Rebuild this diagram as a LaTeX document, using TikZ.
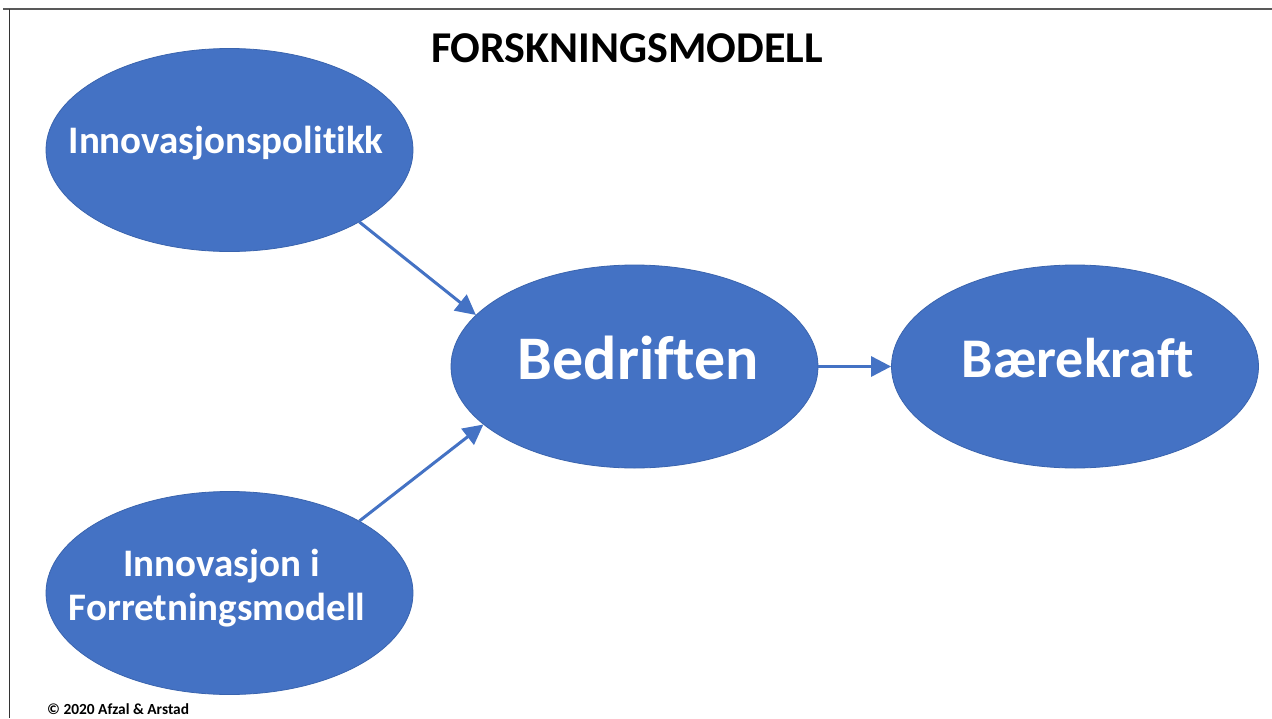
\documentclass[tikz,border=0pt]{standalone}
\usepackage{fontspec}
\setmainfont[Ligatures=NoCommon]{Carlito}
\usetikzlibrary{shapes.geometric,arrows.meta}
\definecolor{oblue}{HTML}{4472C4}
\definecolor{oedge}{HTML}{3A64AE}
\tikzset{
  bubble/.style={ellipse, fill=oblue, draw=oedge, line width=0.8pt, minimum width=367pt, minimum height=203pt, inner sep=0pt},
  btext/.style={text=white, align=center, inner sep=0pt},
  conn/.style={draw=oblue, line width=3pt, -{Triangle[length=20pt,width=20pt]}}
}
\begin{document}
\begin{tikzpicture}[x=1pt,y=-1pt]
\useasboundingbox (0,0) rectangle (1272,718);
\fill[white] (0,0) rectangle (1272,718);
\draw[gray!70!black, line width=1.5pt] (3,9) -- (1272,9);
\draw[black!80, line width=1pt] (9,9) -- (9,718);
\node[font=\fontsize{44}{50}\selectfont\bfseries] (title) at (627,48) {FORSKNINGSMODELL};
\node[bubble] (pol) at (229.5,150) {};
\node[bubble] (forr) at (229.5,593) {};
\node[bubble] (bed) at (634.5,366.5) {};
\node[bubble] (bae) at (1075,366.5) {};
\node[btext, font=\fontsize{39}{44}\selectfont\bfseries] (polt) at (226,143) {Innovasjonspolitikk};
\node[btext, font=\fontsize{39}{44}\selectfont\bfseries] (forrt) at (217,588) {\hspace*{9pt}Innovasjon i\\Forretningsmodell};
\node[btext, font=\fontsize{62}{68}\selectfont\bfseries] (bedt) at (638.5,358) {Bedriften};
\node[btext, font=\fontsize{56}{62}\selectfont\bfseries] (baet) at (1078,358) {Bærekraft};
\node[font=\fontsize{15.4}{17}\selectfont\bfseries, anchor=west, inner sep=0pt] (copy) at (47,709) {© 2020 Afzal \& Arstad};
\draw[conn] (pol.-29) -- (bed.162);
\draw[conn] (forr.29.5) -- (bed.-159);
\draw[conn] (bed.east) -- (bae.west);
\end{tikzpicture}
\end{document}
